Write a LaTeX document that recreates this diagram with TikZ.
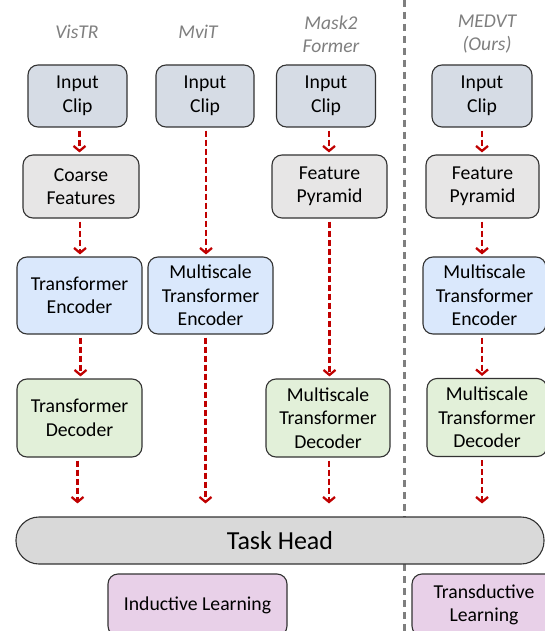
\documentclass[tikz,border=0pt]{standalone}
\usepackage{fontspec}
\setmainfont{Carlito}
\usetikzlibrary{arrows.meta,calc}
\definecolor{inclip}{HTML}{D6DCE5}
\definecolor{featc}{HTML}{E7E6E6}
\definecolor{encc}{HTML}{DAE8FC}
\definecolor{decc}{HTML}{E2F0D9}
\definecolor{headc}{HTML}{D9D9D9}
\definecolor{learnc}{HTML}{E8D0E8}
\definecolor{arrc}{HTML}{C00000}
\definecolor{titc}{HTML}{7F7F7F}
\definecolor{edgec}{HTML}{333333}
\begin{document}
\begin{tikzpicture}[x=1pt,y=-1pt,
  box/.style={draw=edgec, line width=1.1pt, rounded corners=10pt, align=center,
     inner sep=0pt, font=\fontsize{19.7}{23.5}\selectfont},
  bx/.style n args={2}{box, minimum width=#1pt, minimum height=#2pt},
  title/.style={text=titc, font=\fontsize{19.5}{23}\selectfont\itshape, align=center},
  arr/.style={draw=arrc, line width=2.3pt, dash pattern=on 6pt off 3pt,
     -{Straight Barb[length=5pt,width=12pt,line width=2.3pt]}, shorten <=3pt, shorten >=2pt},
  sep/.style={draw=titc, line width=3pt, dash pattern=on 7pt off 5pt}
]
\useasboundingbox (0,0) rectangle (545,631);
\fill[white] (0,0) rectangle (545,631);

% separator
\coordinate (s1) at (404,0);
\coordinate (s2) at (404,631);
\draw[sep] (s1) -- (s2);

% titles
\node[title] (t1) at (77,32) {VisTR};
\node[title] (t2) at (198,32) {MviT};
\node[title] (t3) at (331,34) {Mask2\\Former};
\node[title] (t4) at (487,34) {MEDVT\\(Ours)};

% input clips
\node[bx={99}{62}, fill=inclip] (ic1) at (77.5,96) {Input\\Clip};
\node[bx={98}{62}, fill=inclip] (ic2) at (205,96) {Input\\Clip};
\node[bx={99}{62}, fill=inclip] (ic3) at (326,96) {Input\\Clip};
\node[bx={100}{62}, fill=inclip] (ic4) at (482,96) {Input\\Clip};

% features
\node[bx={116}{63}, fill=featc] (cf1) at (81,186.5) {Coarse\\Features};
\node[bx={115}{63}, fill=featc] (fp3) at (329.5,186.5) {Feature\\Pyramid};
\node[bx={113}{63}, fill=featc] (fp4) at (482.5,186.5) {Feature\\Pyramid};

% encoders
\node[bx={125}{77}, fill=encc] (te1) at (79.5,295.5) {Transformer\\Encoder};
\node[bx={125}{77}, fill=encc] (me2) at (210.5,295.5) {Multiscale\\Transformer\\Encoder};
\node[bx={123}{77}, fill=encc] (me4) at (484.5,295.5) {Multiscale\\Transformer\\Encoder};

% decoders
\node[bx={125}{78}, fill=decc] (td1) at (79.5,418) {Transformer\\Decoder};
\node[bx={124}{78}, fill=decc] (md3) at (328,418) {Multiscale\\Transformer\\Decoder};
\node[bx={120}{78}, fill=decc] (md4) at (487,417.5) {Multiscale\\Transformer\\Decoder};

% task head
\node[draw=edgec, line width=1.1pt, fill=headc, rounded corners=23pt,
  minimum width=528pt, minimum height=47pt, inner sep=0pt,
  font=\fontsize{26}{30}\selectfont] (th) at (280,540.5) {Task Head};

% learning
\node[bx={179}{62}, fill=learnc] (il) at (197.5,605) {Inductive Learning};
\node[bx={144}{62}, fill=learnc] (tl) at (484,605) {Transductive\\Learning};

% arrows
\draw[arr] ([xshift=2pt]ic1.south) -- ([xshift=2pt]ic1.south |- cf1.north);
\draw[arr] ([xshift=-1pt]cf1.south) -- ([xshift=-1pt]cf1.south |- te1.north);
\draw[arr] ([xshift=1pt]te1.south) -- ([xshift=1pt]te1.south |- td1.north);
\draw[arr, shorten >=13pt] ([xshift=-2pt]td1.south) -- ([xshift=-2pt]td1.south |- th.north);

\draw[arr] ([xshift=1pt]ic2.south) -- ([xshift=1pt]ic2.south |- me2.north);
\draw[arr, shorten >=13pt] ([xshift=-5pt]me2.south) -- ([xshift=-5pt]me2.south |- th.north);

\draw[arr] ([xshift=3pt]ic3.south) -- ([xshift=3pt]ic3.south |- fp3.north);
\draw[arr] (fp3.south) -- (fp3.south |- md3.north);
\draw[arr, shorten >=13pt] ([xshift=1pt]md3.south) -- ([xshift=1pt]md3.south |- th.north);

\draw[arr] (ic4.south) -- (ic4.south |- fp4.north);
\draw[arr] ([xshift=-0.5pt]fp4.south) -- ([xshift=-0.5pt]fp4.south |- me4.north);
\draw[arr] ([xshift=-2.5pt]me4.south) -- ([xshift=-2.5pt]me4.south |- md4.north);
\draw[arr, shorten >=13pt] ([xshift=-5pt]md4.south) -- ([xshift=-5pt]md4.south |- th.north);
\end{tikzpicture}
\end{document}
